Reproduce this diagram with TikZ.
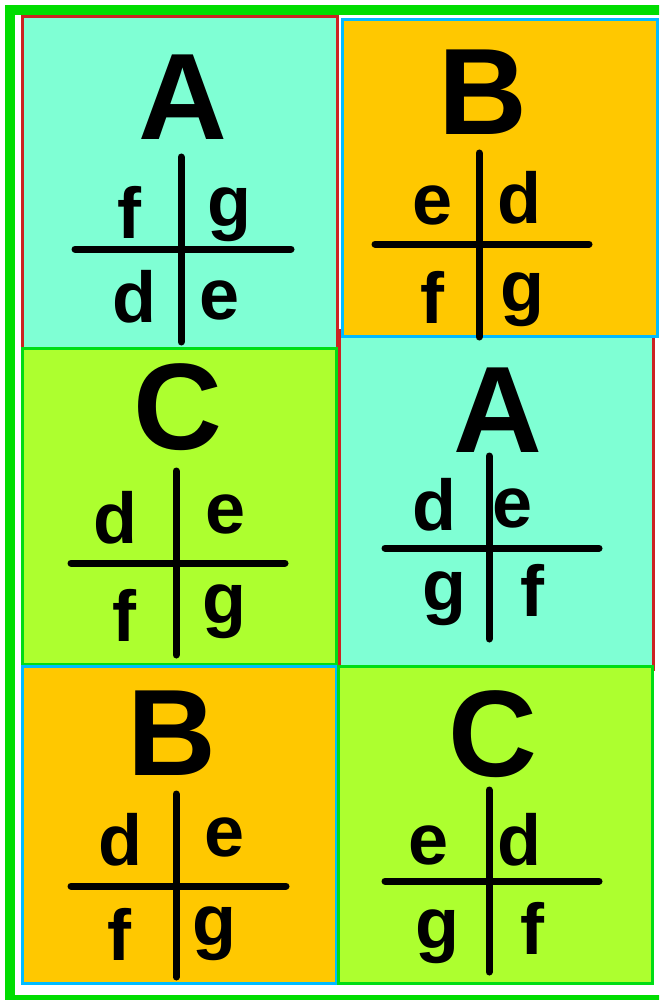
\documentclass[tikz,border=0pt]{standalone}
\usepackage{fontspec}
\setmainfont{Liberation Sans}
\definecolor{outergreen}{RGB}{0,221,0}
\definecolor{tilered}{RGB}{204,34,34}
\definecolor{tileblue}{RGB}{0,187,255}
\definecolor{tilegreen}{RGB}{0,221,20}
\definecolor{fillaqua}{RGB}{127,255,212}
\definecolor{filllime}{RGB}{173,255,47}
\definecolor{fillgold}{RGB}{255,200,0}
\begin{document}
\begin{tikzpicture}[x=1pt,y=-1pt,
  tileA/.style={draw=tilered,fill=fillaqua,line width=3pt},
  tileB/.style={draw=tileblue,fill=fillgold,line width=3pt},
  tileC/.style={draw=tilegreen,fill=filllime,line width=3pt},
  big/.style={font=\bfseries\fontsize{123}{123}\selectfont,inner sep=0pt},
  small/.style={font=\bfseries\fontsize{72}{72}\selectfont,inner sep=0pt},
  crossline/.style={line width=7pt,line cap=round}]
\useasboundingbox (0,0) rectangle (659,1000);
\clip (0,0) rectangle (659,1000);
\fill[white] (0,0) rectangle (659,1000);
\draw[outergreen,line width=10pt] (10,10) rectangle (670,1000);
% tiles
\draw[tileA] (22.5,16.5) rectangle (337.5,349);
\draw[tileC] (22.5,348.5) rectangle (336.5,664);
\draw[tileB] (22.5,666) rectangle (336.5,983);
\draw[tileA] (339.5,330) rectangle (653.5,669);
\draw[tileB] (342.5,19.5) rectangle (657,336);
\draw[tileC] (338.5,666) rectangle (652,983);
% left A
\node[big] (lA) at (183,97) {A};
\draw[crossline] (181,157) -- (181,342);
\draw[crossline] (75,249) -- (291,249);
\node[small] (lAf) at (129,212) {f};
\node[small] (lAg) at (229.5,215) {g};
\node[small] (lAd) at (134.5,296.5) {d};
\node[small] (lAe) at (219.5,300) {e};
% right B
\node[big] (rB) at (483,92) {B};
\draw[crossline] (479,153) -- (479,337);
\draw[crossline] (375,244) -- (589,244);
\node[small] (rBe) at (433,205) {e};
\node[small] (rBd) at (519,198) {d};
\node[small] (rBf) at (432,297) {f};
\node[small] (rBg) at (522,300) {g};
% left C
\node[big] (lC) at (178,407) {C};
\draw[crossline] (176,471) -- (176,655);
\draw[crossline] (71,563) -- (285,563);
\node[small] (lCd) at (115,518) {d};
\node[small] (lCe) at (226,514) {e};
\node[small] (lCf) at (124,615) {f};
\node[small] (lCg) at (224,612) {g};
% right A
\node[big] (rA) at (498,410) {A};
\draw[crossline] (489,456) -- (489,639);
\draw[crossline] (385,548) -- (599,548);
\node[small] (rAd) at (434,505) {d};
\node[small] (rAe) at (513,508) {e};
\node[small] (rAg) at (444,599) {g};
\node[small] (rAf) at (532,590) {f};
% left B
\node[big] (lB) at (172,733) {B};
\draw[crossline] (176,794) -- (176,977);
\draw[crossline] (71,886) -- (286,886);
\node[small] (lBd) at (120,840) {d};
\node[small] (lBe) at (225,837) {e};
\node[small] (lBf) at (119,934) {f};
\node[small] (lBg) at (214,934) {g};
% right C
\node[big] (rC) at (493,734) {C};
\draw[crossline] (489,790) -- (489,972);
\draw[crossline] (385,881) -- (599,881);
\node[small] (rCe) at (429,845) {e};
\node[small] (rCd) at (519,840) {d};
\node[small] (rCg) at (437,937) {g};
\node[small] (rCf) at (532,928) {f};
\end{tikzpicture}
\end{document}
